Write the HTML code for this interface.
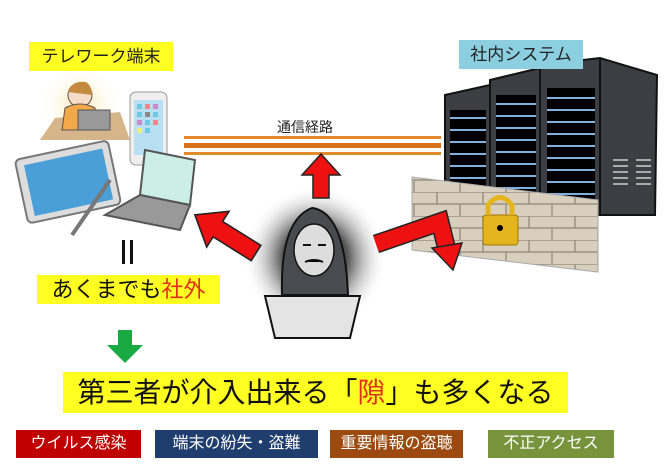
<!DOCTYPE html>
<html><head><meta charset="utf-8"><style>
html,body{margin:0;padding:0;background:#fff;}
body{width:670px;height:471px;overflow:hidden;position:relative;font-family:"Liberation Sans","Noto Sans CJK JP",sans-serif;}
.t{position:absolute;white-space:nowrap;}
</style></head><body>
<svg width="670" height="471" style="position:absolute;left:0;top:0">
<defs>
<radialGradient id="glow" cx="0.5" cy="0.5" r="0.5">
<stop offset="0.45" stop-color="#555"/><stop offset="1" stop-color="#fff" stop-opacity="0"/>
</radialGradient>
<radialGradient id="sun" cx="0.5" cy="0.5" r="0.5">
<stop offset="0" stop-color="#fde9a8"/><stop offset="1" stop-color="#fff" stop-opacity="0"/>
</radialGradient>
<pattern id="brick" width="46" height="24" patternUnits="userSpaceOnUse">
<rect width="46" height="24" fill="#d9cfbf"/>
<path d="M0 12H46M0 0H46M23 0V12M0 12V24M46 12V24" stroke="#9c9282" stroke-width="1.5"/>
</pattern>
</defs>
<!-- woman -->
<circle cx="80" cy="105" r="42" fill="url(#sun)"/>
<path d="M40 140 L55 118 L120 112 L130 140Z" fill="#d7b58a"/>
<circle cx="80" cy="95" r="12" fill="#f6dcc6" stroke="#555"/>
<path d="M68 92 Q72 80 86 82 Q92 86 92 95" fill="#c48a40"/>
<path d="M62 130 L65 108 Q80 100 95 108 L98 130Z" fill="#f3a84a" stroke="#555"/>
<rect x="78" y="110" width="32" height="20" fill="#999" stroke="#555"/>
<!-- phone -->
<rect x="130" y="92" width="37" height="73" rx="6" fill="#eee" stroke="#999"/>
<rect x="134" y="100" width="29" height="55" fill="#b8dff2"/>
<g fill="#6ec8e8"><rect x="137" y="104" width="5" height="5"/><rect x="145" y="104" width="5" height="5" fill="#e88"/><rect x="153" y="104" width="5" height="5" fill="#c8c"/><rect x="137" y="112" width="5" height="5"/><rect x="145" y="112" width="5" height="5" fill="#888"/><rect x="153" y="112" width="5" height="5"/><rect x="137" y="120" width="5" height="5" fill="#c8c"/><rect x="145" y="120" width="5" height="5"/><rect x="153" y="120" width="5" height="5" fill="#e88"/><rect x="137" y="128" width="5" height="5" fill="#ee8"/><rect x="145" y="128" width="5" height="5"/></g>
<!-- tablet -->
<g transform="rotate(-12 65 180)"><rect x="20" y="150" width="95" height="65" rx="5" fill="#ddd" stroke="#777" stroke-width="2"/><rect x="28" y="157" width="80" height="52" fill="#4a9fd8"/></g>
<line x1="72" y1="235" x2="110" y2="180" stroke="#777" stroke-width="4"/>
<!-- laptop -->
<path d="M145 150 L195 160 L190 205 L140 195Z" fill="#ccefe5" stroke="#555" stroke-width="2"/>
<path d="M140 195 L190 205 L180 230 L105 215Z" fill="#999" stroke="#555" stroke-width="2"/>
<!-- lines -->
<rect x="184" y="136" width="257" height="3" fill="#e38a2c"/>
<rect x="184" y="143" width="257" height="5" fill="#d9731a"/>
<rect x="184" y="152" width="257" height="3" fill="#e38a2c"/>
<!-- servers -->
<g stroke="#111" stroke-width="2">
<path d="M445 95 L490 85 L490 215 L445 210Z" fill="#3d3e44"/>
<path d="M490 80 L540 68 L540 215 L490 215Z" fill="#3d3e44"/>
<path d="M540 65 L600 58 L657 75 L655 215 L540 215Z" fill="#3d3e44"/>
<path d="M600 58 L600 215" />
</g>
<g fill="#000">
<rect x="450" y="110" width="36" height="90"/><rect x="496" y="95" width="40" height="110"/><rect x="547" y="88" width="48" height="120"/>
</g>
<g stroke="#7eb0e0" stroke-width="2">
<path d="M450 118h36M450 130h36M450 142h36M450 154h36M450 166h36M450 178h36M496 104h40M496 116h40M496 128h40M496 140h40M496 152h40M496 164h40M496 176h40M496 188h40M547 98h48M547 110h48M547 122h48M547 134h48M547 146h48M547 158h48M547 170h48M547 182h48M547 194h48"/>
</g>
<g stroke="#aaa" stroke-width="2"><path d="M613 160h15M613 166h15M613 172h15M613 178h15M613 184h15M636 160h15M636 166h15M636 172h15M636 178h15M636 184h15"/></g>
<!-- wall -->
<path d="M412 177 L598 200 L598 272 L412 250Z" fill="url(#brick)" stroke="#aaa"/>
<rect x="483" y="215" width="35" height="30" rx="3" fill="#e5b520" stroke="#a07800"/>
<path d="M488 215 V205 Q500 190 512 205 V215" fill="none" stroke="#e5b520" stroke-width="5"/>
<circle cx="500" cy="228" r="3" fill="#000"/>
<!-- hacker glow -->
<circle cx="315" cy="258" r="72" fill="url(#glow)"/>
<path d="M282 295 Q280 220 312 208 Q345 212 348 295Z" fill="#4a4b50" stroke="#111" stroke-width="2"/>
<ellipse cx="314" cy="250" rx="20" ry="26" fill="#ddd" stroke="#111" stroke-width="1.5"/>
<path d="M303 245h8M318 245h8M305 262 Q314 258 323 262" stroke="#111" stroke-width="2"/>
<path d="M265 296 L360 296 L350 338 L275 338Z" fill="#e4e4e4" stroke="#111" stroke-width="2"/>
<!-- red arrows -->
<g fill="#ee1111" stroke="#222" stroke-width="1.5">
<path d="M313 198 L313 175 L302 175 L321 154 L340 175 L329 175 L329 198Z"/>
<path d="M0 -9 L45 -9 L45 -21 L72 0 L45 21 L45 9 L0 9Z" transform="translate(256 253) rotate(212)"/>
<path d="M0 -9 L45 -9 L45 -21 L72 0 L45 21 L45 9 L0 9Z" transform="translate(256 253) rotate(212)"/>
</g>
<path d="M376 244 L440 222 L447 250" fill="none" stroke="#222" stroke-width="19" stroke-linejoin="miter"/>
<path d="M376 244 L440 222 L447 250" fill="none" stroke="#ee1111" stroke-width="16" stroke-linejoin="miter"/>
<path d="M432 248 L462 243 L453 270Z" fill="#ee1111" stroke="#222" stroke-width="1.5"/>
<!-- equals -->
<rect x="122" y="240" width="3" height="24" fill="#111"/><rect x="130" y="240" width="3" height="24" fill="#111"/>
<!-- green arrow -->
<path d="M118 330 H132 V345 H143 L125 363 L107 345 H118Z" fill="#1aaa44"/>
</svg>
<div class="t" style="left:29px;top:42px;width:144px;height:29px;background:#ffff22;font-size:17px;line-height:29px;text-align:center;color:#222">テレワーク端末</div>
<div class="t" style="left:459px;top:40px;width:124px;height:29px;background:#8ccfe0;font-size:17px;line-height:29px;text-align:center;color:#222">社内システム</div>
<div class="t" style="left:277px;top:117px;font-size:14px;color:#222">通信経路</div>
<div class="t" style="left:37px;top:275px;width:183px;height:29px;background:#ffff22;font-size:22px;line-height:29px;text-align:center;color:#111">あくまでも<span style="color:#e0301a">社外</span></div>
<div class="t" style="left:63px;top:372px;width:505px;height:41px;background:#ffff22;font-size:28px;line-height:41px;text-align:center;color:#111">第三者が介入出来る「<span style="color:#e0301a">隙</span>」も多くなる</div>
<div class="t" style="left:16px;top:430px;width:125px;height:28px;background:#c00000;color:#fff;font-size:16px;line-height:28px;text-align:center">ウイルス感染</div>
<div class="t" style="left:155px;top:430px;width:163px;height:28px;background:#1f3e6e;color:#fff;font-size:16px;line-height:28px;text-align:center">端末の紛失・盗難</div>
<div class="t" style="left:330px;top:430px;width:133px;height:28px;background:#9c4a10;color:#fff;font-size:16px;line-height:28px;text-align:center">重要情報の盗聴</div>
<div class="t" style="left:488px;top:430px;width:126px;height:28px;background:#77943c;color:#fff;font-size:16px;line-height:28px;text-align:center">不正アクセス</div>
</body></html>
